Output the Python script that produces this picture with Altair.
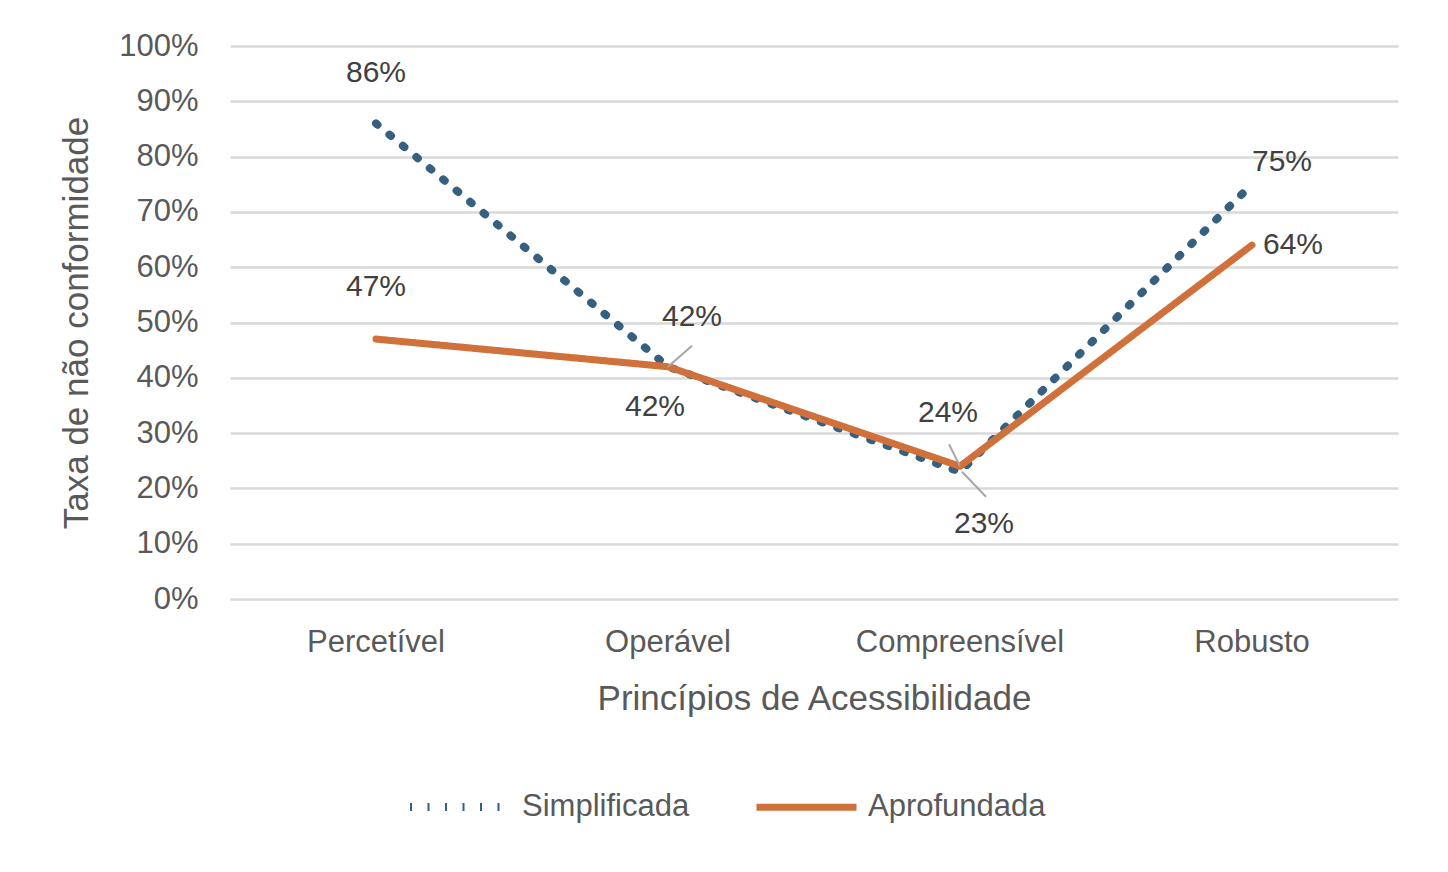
import altair as alt
import pandas as pd

categories = ["Percetível", "Operável", "Compreensível", "Robusto"]
series_names = ["Simplificada", "Aprofundada"]
simplificada = [86, 42, 23, 75]
aprofundada = [47, 42, 24, 64]
y_ticks = [0, 10, 20, 30, 40, 50, 60, 70, 80, 90, 100]

rows = []
for c, v in zip(categories, simplificada):
    rows.append({"cat": c, "serie": "Simplificada", "v": v})
for c, v in zip(categories, aprofundada):
    rows.append({"cat": c, "serie": "Aprofundada", "v": v})
df = pd.DataFrame(rows)
df["label"] = df["v"].astype(str) + "%"

FONT = "Liberation Sans"
BLUE = "#36607f"
ORANGE = "#d0703a"

x_enc = alt.X("cat:N", sort=categories, title="Princípios de Acessibilidade",
              scale=alt.Scale(paddingInner=0, paddingOuter=0),
              axis=alt.Axis(labelAngle=0, labelFontSize=31, labelColor="#595959",
                            titleFontSize=35, titleColor="#595959", titleFontWeight="normal",
                            labelPadding=28, titlePadding=24, ticks=False, domain=False,
                            grid=False, labelFont=FONT, titleFont=FONT, labelLimit=0))
y_enc = alt.Y("v:Q", title="Taxa de não conformidade",
              scale=alt.Scale(domain=[0, 100], nice=False),
              axis=alt.Axis(values=y_ticks, labelExpr="datum.value + '%'",
                            labelFontSize=31, labelColor="#595959", titleFontSize=35,
                            titleColor="#595959", titleFontWeight="normal",
                            labelPadding=32, titlePadding=24, ticks=False, domain=False,
                            gridColor="#d9d9d9", gridWidth=2.5,
                            labelFont=FONT, titleFont=FONT))

legend_opts = dict(title=None, orient="none", direction="horizontal",
                   legendX=176, legendY=707, symbolType="stroke", symbolSize=10000,
                   symbolStrokeWidth=8, labelFontSize=31, labelLimit=0,
                   labelColor="#595959", labelFont=FONT,
                   columnPadding=52, labelOffset=8)

base = alt.Chart(df)

lines = base.mark_line(strokeCap="round", strokeJoin="round").encode(
    x=x_enc,
    y=y_enc,
    color=alt.Color("serie:N", sort=series_names,
                    scale=alt.Scale(domain=series_names, range=[BLUE, ORANGE]),
                    legend=alt.Legend(**legend_opts)),
    strokeDash=alt.StrokeDash("serie:N", sort=series_names,
                              scale=alt.Scale(domain=series_names, range=[[2, 15.5], [1, 0]]),
                              legend=alt.Legend(**legend_opts)),
    strokeWidth=alt.StrokeWidth("serie:N", scale=alt.Scale(domain=series_names, range=[8, 7]),
                                legend=None),
    order=alt.Order("cat_idx:Q"),
).transform_calculate(
    cat_idx="indexof(['Percetível','Operável','Compreensível','Robusto'], datum.cat)"
)


def label(serie, cat, dx, dy):
    return base.transform_filter(
        (alt.datum.serie == serie) & (alt.datum.cat == cat)
    ).mark_text(fontSize=30, color="#404040", font=FONT, dx=dx, dy=dy,
                baseline="middle", align="center").encode(
        x=alt.X("cat:N", sort=categories), y="v:Q", text="label:N")


labels = [
    label("Simplificada", "Percetível", 0, -50),
    label("Aprofundada", "Percetível", 0, -52),
    label("Simplificada", "Operável", 24, -50),
    label("Aprofundada", "Operável", -13, 40),
    label("Aprofundada", "Compreensível", -12, -53),
    label("Simplificada", "Compreensível", 24, 52),
    label("Simplificada", "Robusto", 30, -22),
    label("Aprofundada", "Robusto", 41, 0),
]


def leader(serie, cat, x_off, y_off, x2_off, y2_off):
    return base.transform_filter(
        (alt.datum.serie == serie) & (alt.datum.cat == cat)
    ).mark_rule(color="#a6a6a6", strokeWidth=2, xOffset=x_off, yOffset=y_off,
                x2Offset=x2_off, y2Offset=y2_off).encode(
        x=alt.X("cat:N", sort=categories), x2="cat:N", y="v:Q", y2="v:Q")


leaders = [
    leader("Simplificada", "Operável", 0, 0, 24, -21),
    leader("Aprofundada", "Compreensível", -11, -22, 0, 0),
    leader("Simplificada", "Compreensível", 2, 0, 26, 25),
]

chart = alt.layer(lines, *leaders, *labels).properties(
    width=1168, height=553,
    padding={"left": 222, "top": 38, "right": 30, "bottom": 268},
    autosize=alt.AutoSizeParams(type="none"),
).configure(background="white").configure_view(stroke=None)

chart.save("out.html", embed_options={"renderer": "svg", "actions": False})
